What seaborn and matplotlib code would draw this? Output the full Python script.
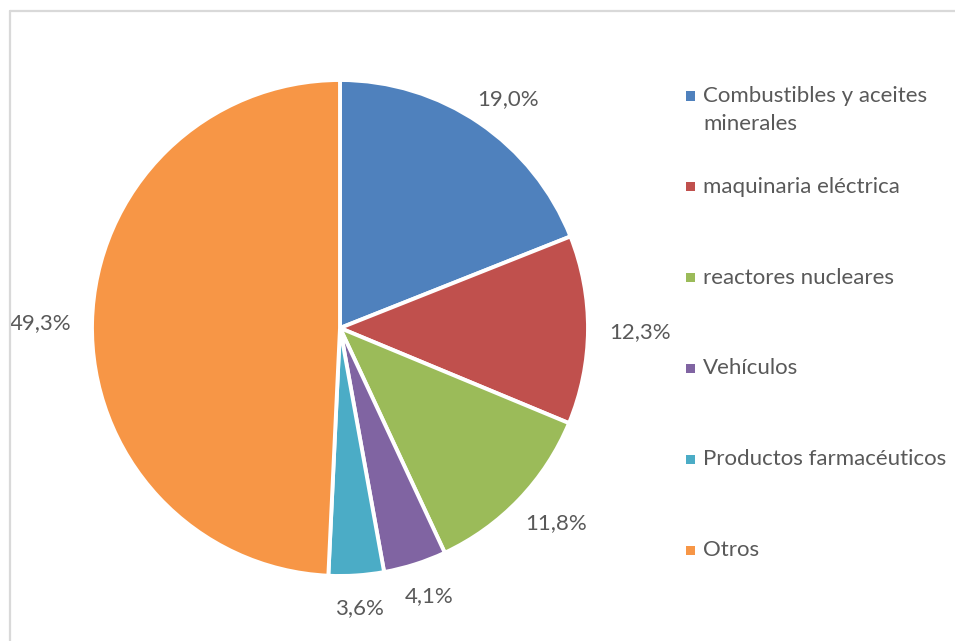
import matplotlib
matplotlib.use("Agg")
import matplotlib.pyplot as plt
from matplotlib.patches import Rectangle
from matplotlib.lines import Line2D
import numpy as np
import seaborn as sns

# Import shares by product group (%)
categories = [
    "Combustibles y aceites\nminerales",
    "maquinaria eléctrica",
    "reactores nucleares",
    "Vehículos",
    "Productos farmacéuticos",
    "Otros",
]
shares = [19.0, 12.3, 11.8, 4.1, 3.6, 49.3]
colors = ["#4F81BD", "#C0504D", "#9BBB59", "#8064A2", "#4BACC6", "#F79646"]

sns.set_theme(style="white")
plt.rcParams["font.family"] = ["Lato", "DejaVu Sans"]
TEXT = "#595959"
FS = 16

W, H = 955, 641
fig = plt.figure(figsize=(W / 100, H / 100), dpi=100)
fig.patch.set_facecolor("white")

def fx(px):
    return px / W

def fy(py):
    return 1 - py / H

# Chart-area border (top and left edges visible)
fig.add_artist(Line2D([fx(10), fx(955)], [fy(11), fy(11)], color="#D9D9D9", lw=1.6))
fig.add_artist(Line2D([fx(10), fx(10)], [fy(11), fy(641)], color="#D9D9D9", lw=1.6))

# Pie placed in a square axes
cx, cy, R = 340, 328, 248
ax = fig.add_axes([fx(cx - R), fy(cy + R), (2 * R) / W, (2 * R) / H])
wedges, _ = ax.pie(
    shares,
    colors=colors,
    startangle=90,
    counterclock=False,
    radius=1.0,
    wedgeprops=dict(edgecolor="white", linewidth=2.8),
)
ax.set_xlim(-1, 1)
ax.set_ylim(-1, 1)
ax.set_aspect("equal")
ax.axis("off")

# Percentage labels just outside each wedge, pushed out by half the text box
renderer = fig.canvas.get_renderer()
gap = 21 / R
for w, v in zip(wedges, shares):
    mid = np.deg2rad((w.theta1 + w.theta2) / 2)
    c, s = np.cos(mid), np.sin(mid)
    t = ax.text(0, 0, f"{v:.1f}%".replace(".", ","),
                ha="center", va="center_baseline", fontsize=FS, color=TEXT,
                clip_on=False)
    bb = t.get_window_extent(renderer)
    hw = bb.width / 2 / R
    hh = bb.height / 2 / R
    t.set_position(((1 + gap) * c + hw * c, (1 + gap) * s + hh * s))

# Legend on the right
first_y, step, line_h = 96, 90.8, 28
mx, tx, msize = 686, 703, 9
for i, (lab, col) in enumerate(zip(categories, colors)):
    y = first_y + i * step
    fig.add_artist(Rectangle((fx(mx), fy(y + msize / 2)), msize / W, msize / H,
                             facecolor=col, edgecolor="none"))
    nlines = lab.count("\n") + 1
    fig.text(fx(tx), fy(y + (nlines - 1) * line_h / 2), lab,
             ha="left", va="center", fontsize=FS, color=TEXT, linespacing=1.5)

fig.savefig("out.png", dpi=100)
